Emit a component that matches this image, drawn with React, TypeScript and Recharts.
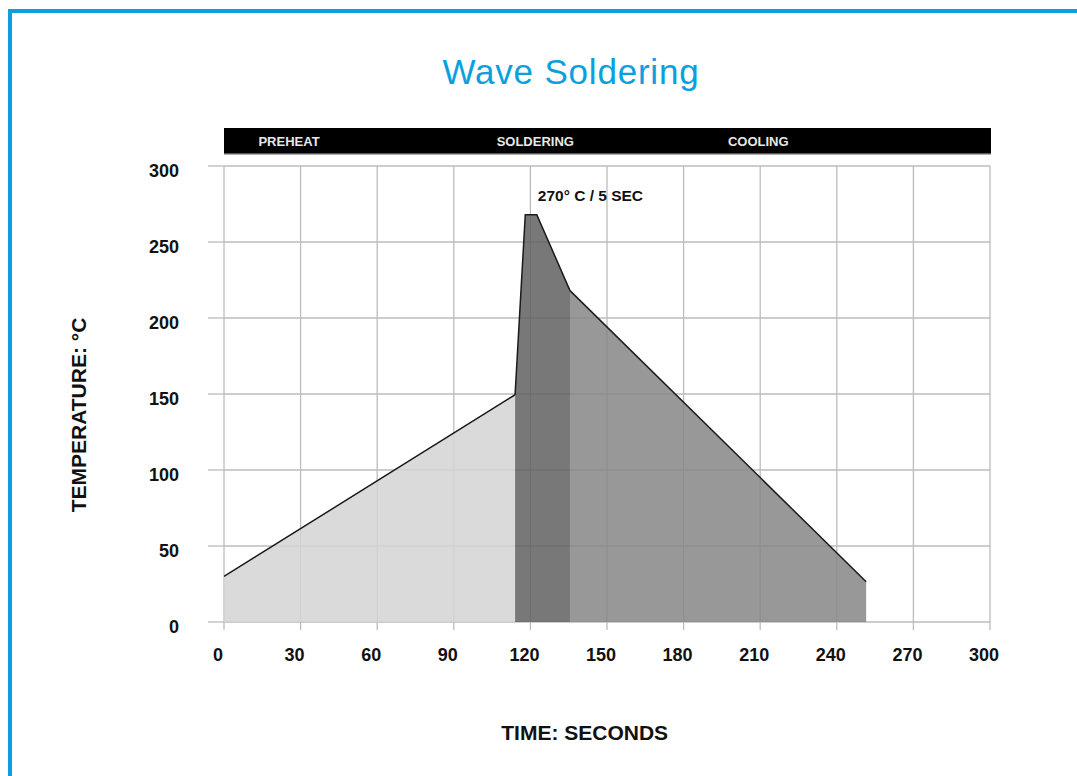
import React from "react";
import {
  ComposedChart, Area, XAxis, YAxis, CartesianGrid, ReferenceDot
} from "recharts";

// profile: seconds / °C
const times = [0, 114, 118, 122.5, 135.5, 251.5];
const preheat = [30, 149.5, null, null, null, null];
const soldering = [null, 149.5, 268, 268, 218, null];
const cooling = [null, null, null, null, 218, 26.5];

const xTicks = [0, 30, 60, 90, 120, 150, 180, 210, 240, 270, 300];
const yTicks = [0, 50, 100, 150, 200, 250, 300];

const phases = ["PREHEAT", "SOLDERING", "COOLING"];
const peakNote = "270° C / 5 SEC";

const data = times.map((t, i) => ({
  t,
  preheat: preheat[i],
  soldering: soldering[i],
  cooling: cooling[i],
}));

const FONT = "'Liberation Sans', Arial, Helvetica, sans-serif";
const BLUE = "#0aa0de";
const GRID = "#bcbcbc";

const YTick = ({ x, y, payload }: any) => (
  <text x={x} y={y + 10.7} textAnchor="end" fontFamily={FONT} fontWeight="bold" fontSize={18} fill="#111">
    {payload.value}
  </text>
);

const XTick = ({ x, y, payload }: any) => (
  <text x={x - 6} y={y + 30.7} textAnchor="middle" fontFamily={FONT} fontWeight="bold" fontSize={18} fill="#111">
    {payload.value}
  </text>
);

const PeakLabel = ({ viewBox }: any) => (
  <text x={viewBox.x + viewBox.width / 2 + 1} y={viewBox.y - 13} fontFamily={FONT} fontWeight="bold" fontSize={15.5} fill="#111">
    {peakNote}
  </text>
);

const phaseX = [289, 535.3, 758.3];

export default function App() {
  return (
    <div style={{ position: "absolute", left: 0, top: 0, width: 1077, height: 776, background: "#fff", overflow: "hidden" }}>
      <div style={{ position: "absolute", left: 8, top: 9, width: 1100, height: 800, borderTop: `4px solid ${BLUE}`, borderLeft: `4px solid ${BLUE}` }} />

      <svg width={1077} height={776} style={{ position: "absolute", left: 0, top: 0 }}>
        <text x={571} y={84.3} textAnchor="middle" fontFamily={FONT} fontSize={35} letterSpacing={0.8} fill={BLUE}>
          Wave Soldering
        </text>
        <rect x={224} y={128} width={767} height={25.7} fill="#000" />
        <line x1={224} x2={991} y1={154.3} y2={154.3} stroke="#999" strokeWidth={1} />
        {phases.map((p, i) => (
          <text key={p} x={phaseX[i]} y={146} textAnchor="middle" fontFamily={FONT} fontWeight="bold" fontSize={13} fill="#e8e8e8">
            {p}
          </text>
        ))}
        <text
          x={85.5} y={415} textAnchor="middle" transform="rotate(-90 85.5 415)"
          fontFamily={FONT} fontWeight="bold" fontSize={21} fill="#111"
        >
          TEMPERATURE: °C
        </text>
        <text x={584.7} y={739.7} textAnchor="middle" fontFamily={FONT} fontWeight="bold" fontSize={21} fill="#111">
          TIME: SECONDS
        </text>
      </svg>

      <div style={{ position: "absolute", left: 0, top: 0 }}>
        <ComposedChart
          width={1077}
          height={776}
          data={data}
          margin={{ top: 166, right: 87, bottom: 114, left: 144 }}
        >
          <CartesianGrid stroke={GRID} strokeWidth={1.3} />
          <XAxis
            dataKey="t" type="number" domain={[0, 300]} ticks={xTicks}
            height={40} axisLine={false} tickSize={8} tickMargin={0}
            tickLine={{ stroke: GRID, strokeWidth: 1.3 }} tick={<XTick />}
            interval={0} allowDataOverflow
          />
          <YAxis
            type="number" domain={[0, 300]} ticks={yTicks}
            width={80} axisLine={false} tickSize={16} tickMargin={29}
            tickLine={{ stroke: GRID, strokeWidth: 1.3 }} tick={<YTick />}
            interval={0}
          />
          <Area
            dataKey="preheat" type="linear" isAnimationActive={false}
            fill="#d3d3d3" fillOpacity={0.85} stroke="#1a1a1a" strokeWidth={1.5} dot={false} activeDot={false}
          />
          <Area
            dataKey="soldering" type="linear" isAnimationActive={false}
            fill="#606060" fillOpacity={0.85} stroke="#1a1a1a" strokeWidth={1.5} dot={false} activeDot={false}
          />
          <Area
            dataKey="cooling" type="linear" isAnimationActive={false}
            fill="#868686" fillOpacity={0.85} stroke="#1a1a1a" strokeWidth={1.5} dot={false} activeDot={false}
          />
          <ReferenceDot
            x={times[3]} y={soldering[3] as number} r={1}
            fill="none" stroke="none" label={<PeakLabel />}
          />
        </ComposedChart>
      </div>
    </div>
  );
}
